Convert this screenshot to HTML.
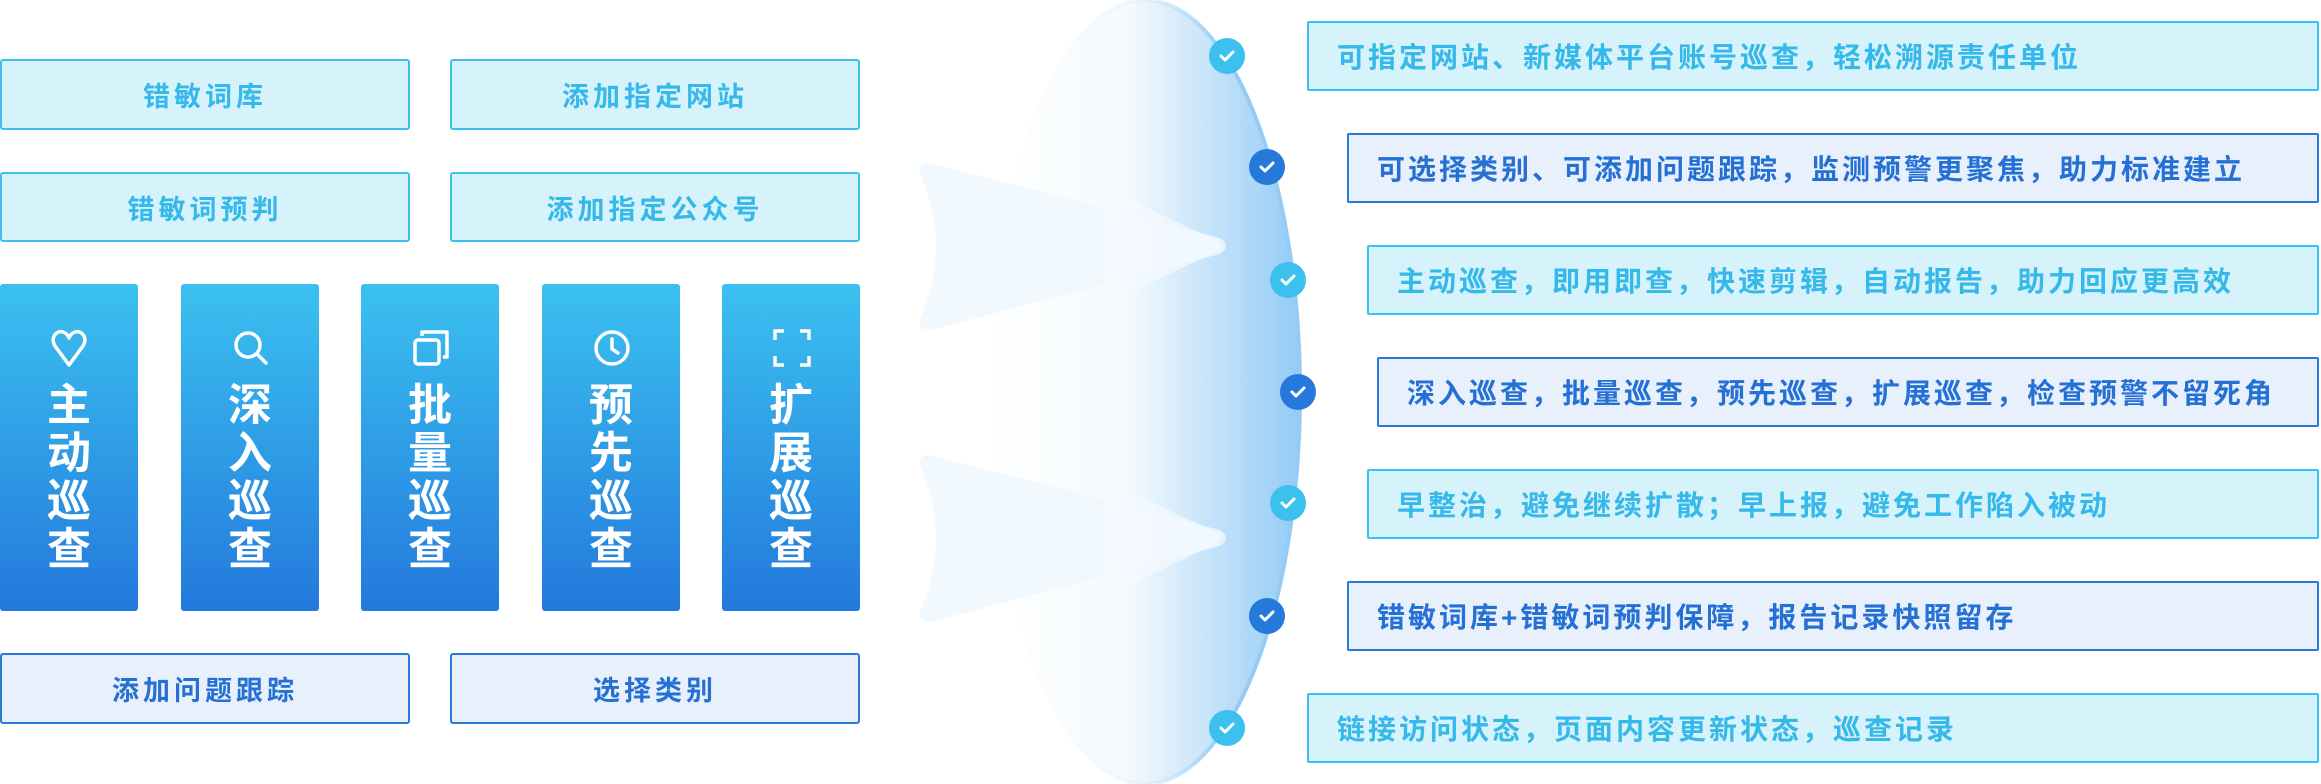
<!DOCTYPE html>
<html><head><meta charset="utf-8"><style>
body{margin:0;width:2321px;height:784px;background:#fff;position:relative;overflow:hidden;font-family:"Liberation Sans","Noto Sans CJK SC",sans-serif;font-weight:bold}
.b{position:absolute;box-sizing:border-box;display:flex;align-items:center;justify-content:center;font-size:27px;letter-spacing:4px;border-radius:3px}
.c{background:#d6f2fb;border:2px solid #3cc0ee;color:#35b8ea}
.d{background:#e8f0fb;border:2px solid #2a7ad9;color:#2570d4}
.col{position:absolute;top:284px;width:138px;height:327px;background:linear-gradient(#3bc1f0,#2379dc);border-radius:3px;color:#fff;text-align:center}
.col .t{position:absolute;top:98px;left:0;right:0;font-size:44px;line-height:48px}
.col svg{position:absolute;top:44px;left:50px}
.r{position:absolute;box-sizing:border-box;right:2px;font-size:28px;letter-spacing:3px;display:flex;align-items:center;padding-left:28px;border-radius:2px;height:70px}
</style></head><body>
<div class="b c" style="left:0;top:59px;width:410px;height:71px">错敏词库</div>
<div class="b c" style="left:450px;top:59px;width:410px;height:71px">添加指定网站</div>
<div class="b c" style="left:0;top:172px;width:410px;height:70px">错敏词预判</div>
<div class="b c" style="left:450px;top:172px;width:410px;height:70px">添加指定公众号</div>
<div class="b d" style="left:0;top:653px;width:410px;height:71px">添加问题跟踪</div>
<div class="b d" style="left:450px;top:653px;width:410px;height:71px">选择类别</div>

<div class="col" style="left:0"><svg width="38" height="40" viewBox="0 0 38 40" fill="none" stroke="#fff" stroke-width="3.5" stroke-linejoin="round"><path d="M19 37 L5 18 C0 10 6 2 13 4 C16 5 18 7 19 10 C20 7 22 5 25 4 C32 2 38 10 33 18 Z"/></svg><div class="t">主<br>动<br>巡<br>查</div></div>
<div class="col" style="left:181px"><svg width="40" height="40" viewBox="0 0 40 40" fill="none" stroke="#fff" stroke-width="3.5"><circle cx="17" cy="17" r="12"/><path d="M26 26 L35 35" stroke-linecap="round"/></svg><div class="t">深<br>入<br>巡<br>查</div></div>
<div class="col" style="left:361px"><svg width="40" height="40" viewBox="0 0 40 40" fill="none" stroke="#fff" stroke-width="3.5" stroke-linejoin="round"><path d="M11 8 V4 H36 V29 H32"/><rect x="4" y="12" width="24" height="24" rx="3"/></svg><div class="t">批<br>量<br>巡<br>查</div></div>
<div class="col" style="left:542px"><svg width="40" height="40" viewBox="0 0 40 40" fill="none" stroke="#fff" stroke-width="3.5"><circle cx="20" cy="20" r="16"/><path d="M20 11 V21 L26 25" stroke-linecap="round"/></svg><div class="t">预<br>先<br>巡<br>查</div></div>
<div class="col" style="left:722px"><svg width="40" height="40" viewBox="0 0 40 40" fill="none" stroke="#fff" stroke-width="3.5"><path d="M3 12 V3 H12 M28 3 H37 V12 M37 28 V37 H28 M12 37 H3 V28"/></svg><div class="t">扩<br>展<br>巡<br>查</div></div>

<svg style="position:absolute;left:0;top:0" width="2321" height="784">
<defs>
<linearGradient id="g" x1="0" x2="1"><stop offset="0" stop-color="#fff"/><stop offset="0.45" stop-color="#f3f9fe"/><stop offset="1" stop-color="#92cbf6"/></linearGradient>
<linearGradient id="s" x1="0" x2="1"><stop offset="0" stop-color="#fff" stop-opacity="0"/><stop offset="0.5" stop-color="#c8e4fa" stop-opacity="0.3"/><stop offset="0.75" stop-color="#95cbf5"/><stop offset="1" stop-color="#95cbf5"/></linearGradient>
</defs>
<ellipse cx="1145" cy="392" rx="155" ry="392" fill="url(#g)" stroke="url(#s)" stroke-width="4"/>
<g fill="#eef7fe" opacity="0.85">
<path d="M930 163 L1220 238 Q1232 246 1220 254 L930 330 Q915 330 922 315 Q950 247 922 178 Q915 163 930 163Z"/>
<path d="M930 455 L1220 530 Q1232 538 1220 546 L930 622 Q915 622 922 607 Q950 539 922 470 Q915 455 930 455Z"/>
</g>
<g fill="#f5faff" opacity="0.7">
<path d="M1105 188 L1215 240 Q1225 246 1215 252 L1105 305Z"/>
<path d="M1105 480 L1215 532 Q1225 538 1215 544 L1105 597Z"/>
</g>
<g stroke="#fff" stroke-width="3" fill="none" stroke-linecap="round" stroke-linejoin="round">
<circle cx="1227" cy="56" r="18" fill="#3cc0ee" stroke="none"/><path d="M1221 56 l4 4 l8 -8"/>
<circle cx="1267" cy="167" r="18" fill="#2479db" stroke="none"/><path d="M1261 167 l4 4 l8 -8"/>
<circle cx="1288" cy="280" r="18" fill="#3cc0ee" stroke="none"/><path d="M1282 280 l4 4 l8 -8"/>
<circle cx="1298" cy="392" r="18" fill="#2479db" stroke="none"/><path d="M1292 392 l4 4 l8 -8"/>
<circle cx="1288" cy="503" r="18" fill="#3cc0ee" stroke="none"/><path d="M1282 503 l4 4 l8 -8"/>
<circle cx="1267" cy="616" r="18" fill="#2479db" stroke="none"/><path d="M1261 616 l4 4 l8 -8"/>
<circle cx="1227" cy="728" r="18" fill="#3cc0ee" stroke="none"/><path d="M1221 728 l4 4 l8 -8"/>
</g>
</svg>

<div class="r c" style="left:1307px;top:21px">可指定网站、新媒体平台账号巡查，轻松溯源责任单位</div>
<div class="r d" style="left:1347px;top:133px">可选择类别、可添加问题跟踪，监测预警更聚焦，助力标准建立</div>
<div class="r c" style="left:1367px;top:245px">主动巡查，即用即查，快速剪辑，自动报告，助力回应更高效</div>
<div class="r d" style="left:1377px;top:357px">深入巡查，批量巡查，预先巡查，扩展巡查，检查预警不留死角</div>
<div class="r c" style="left:1367px;top:469px">早整治，避免继续扩散；早上报，避免工作陷入被动</div>
<div class="r d" style="left:1347px;top:581px">错敏词库+错敏词预判保障，报告记录快照留存</div>
<div class="r c" style="left:1307px;top:693px">链接访问状态，页面内容更新状态，巡查记录</div>
</body></html>
